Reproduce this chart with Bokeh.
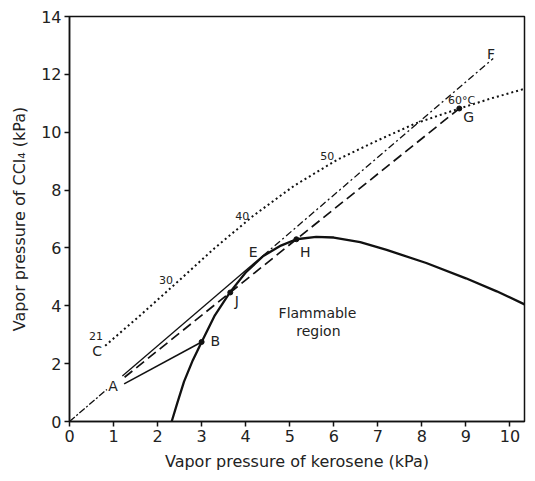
from bokeh.plotting import figure
from bokeh.models import Range1d, FixedTicker
from bokeh.core.properties import value
from bokeh.embed import file_html
from bokeh.resources import INLINE

FONT = "DejaVu Sans"
INK = "#111111"
TXT = "#222222"

# Flammability boundary (kerosene partial pressure vs CCl4 partial pressure, kPa)
flam_x = [2.32, 2.45, 2.6, 2.8, 3.0, 3.3, 3.65, 4.0, 4.4, 4.8, 5.15, 5.6, 6.0,
          6.6, 7.2, 8.1, 9.0, 9.7, 10.33]
flam_y = [0.0, 0.65, 1.38, 2.12, 2.75, 3.67, 4.48, 5.15, 5.72, 6.08, 6.3, 6.38,
          6.36, 6.2, 5.93, 5.48, 4.95, 4.5, 4.05]

# Saturated vapour pressures of the mixture from 21 to 60 degC and beyond
sat_x = [0.81, 1.6, 2.47, 3.3, 4.18, 5.1, 6.08, 7.0, 7.85, 8.85, 9.6, 10.33]
sat_y = [2.62, 3.66, 4.85, 6.0, 7.12, 8.15, 9.05, 9.72, 10.3, 10.82, 11.18, 11.5]
temp_text = ["21", "30", "40", "50", "60°C"]

# Line from the origin tangent to the boundary at E, running on to F
oa_x, oa_y = [0.0, 0.85], [0.0, 1.11]
ae_x, ae_y = [1.2, 4.4], [1.57, 5.74]
ef_x, ef_y = [4.4, 9.62], [5.74, 12.55]

# Mixing line A-G (crosses the boundary at J and H) and line A-B
ag_x, ag_y = [1.25, 8.85], [1.53, 10.82]
ab_x, ab_y = [1.24, 3.0], [1.3, 2.75]

# Marked state points
pt_name = ["B", "J", "H", "G"]
pt_x = [3.0, 3.65, 5.15, 8.85]
pt_y = [2.75, 4.46, 6.3, 10.82]

x_ticks = list(range(0, 11))
y_ticks = list(range(0, 15, 2))

p = figure(width=535, height=481, output_backend="svg", toolbar_location=None,
           x_range=Range1d(0, 10.33), y_range=Range1d(0, 14),
           min_border_left=69, min_border_right=11, min_border_top=16,
           min_border_bottom=60)

p.background_fill_color = "white"
p.border_fill_color = "white"
p.xgrid.visible = False
p.ygrid.visible = False
p.outline_line_color = INK
p.outline_line_width = 1.5

for ax in (p.xaxis[0], p.yaxis[0]):
    ax.axis_line_color = INK
    ax.axis_line_width = 1.5
    ax.major_tick_line_color = INK
    ax.major_tick_line_width = 1.5
    ax.major_tick_in = 0
    ax.major_tick_out = 5
    ax.minor_tick_line_color = None
    ax.major_label_text_font = FONT
    ax.major_label_text_font_size = "16px"
    ax.major_label_text_color = TXT
    ax.axis_label_text_font = FONT
    ax.axis_label_text_font_size = "16px"
    ax.axis_label_text_font_style = "normal"
    ax.axis_label_text_color = TXT

p.xaxis.ticker = FixedTicker(ticks=x_ticks)
p.yaxis.ticker = FixedTicker(ticks=y_ticks)
p.xaxis.axis_label = "Vapor pressure of kerosene (kPa)"
p.yaxis.axis_label = "Vapor pressure of CCl\u2084 (kPa)"
p.xaxis.major_label_standoff = 3
p.yaxis.major_label_standoff = 3
p.xaxis.axis_label_standoff = 7
p.yaxis.axis_label_standoff = 9

# Saturation path (dotted)
p.line(sat_x, sat_y, line_color=INK, line_width=2.0, line_dash="2 3")

# Flammability boundary
p.line(flam_x, flam_y, line_color=INK, line_width=2.3)

# Tangent line O-A-E-F
p.line(oa_x, oa_y, line_color=INK, line_width=1.3, line_dash="7 2 2 2")
p.line(ae_x, ae_y, line_color=INK, line_width=1.3)
p.line(ef_x, ef_y, line_color=INK, line_width=1.3, line_dash="7 3 2 3")

# Mixing lines
p.line(ag_x, ag_y, line_color=INK, line_width=1.7, line_dash="10 5")
p.line(ab_x, ab_y, line_color=INK, line_width=1.6)

p.scatter(pt_x, pt_y, size=5, color=INK)

def put(x, y, s, size="14px", align="center"):
    p.text(x=[x], y=[y], text=[s], text_font=value(FONT), text_font_size=size,
           text_color=TXT, text_align=align, text_baseline="middle")

# Point letters
put(0.99, 1.23, "A")
put(3.31, 2.77, "B")
put(3.8, 4.18, "J")
put(4.17, 5.85, "E")
put(5.35, 5.85, "H")
put(9.06, 10.52, "G")
put(9.57, 12.71, "F")
put(0.63, 2.44, "C")

# Temperature marks along the saturation path
temp_pos = [(0.6, 2.96), (2.19, 4.9), (3.92, 7.11), (5.85, 9.19), (8.9, 11.1)]
for (tx, ty), s in zip(temp_pos, temp_text):
    put(tx, ty, s, size="11px")

put(5.63, 3.75, "Flammable", size="14px")
put(5.65, 3.13, "region", size="14px")

open("out.html", "w").write(file_html(p, INLINE))
